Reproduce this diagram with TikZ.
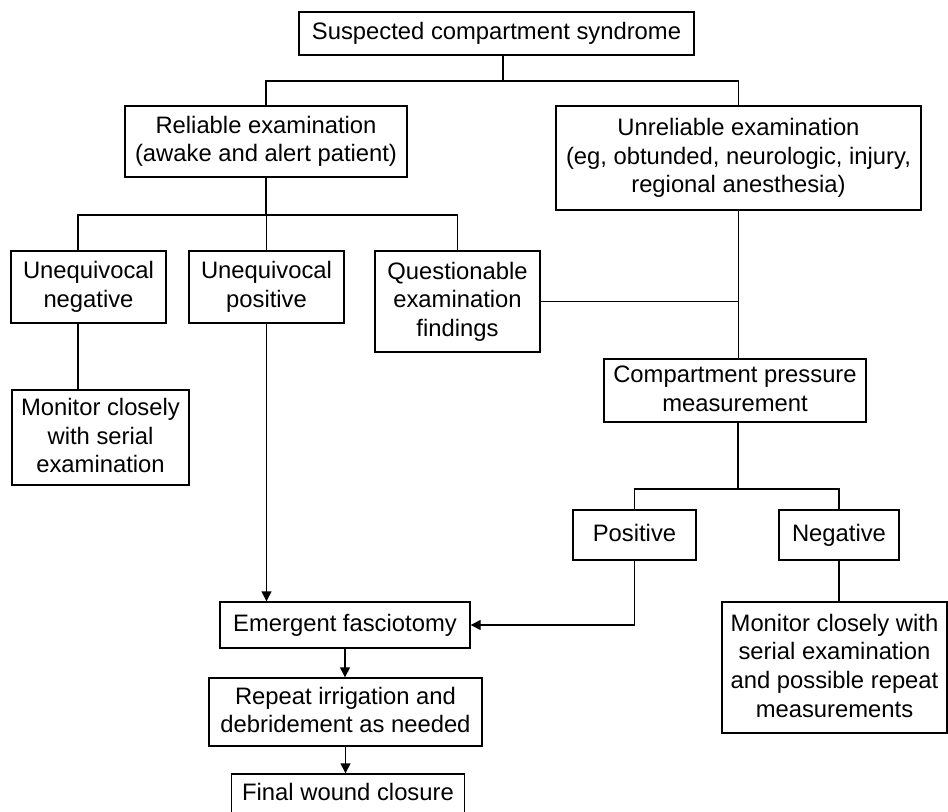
\documentclass[tikz,border=0pt]{standalone}
\usepackage{fontspec}
\setmainfont{Liberation Sans}
\usetikzlibrary{arrows.meta}
\newcommand{\boxstrut}{\rule[-2pt]{0pt}{10.5pt}}

\begin{document}
\begin{tikzpicture}[x=0.5pt, y=-0.5pt,
    box/.style={draw, line width=0.7pt, align=center, inner sep=0pt,
        font=\fontsize{11.9}{14.3}\selectfont,
        execute at begin node=\boxstrut, execute at end node=\boxstrut},
    link/.style={line width=0.7pt},
    arr/.style={line width=0.7pt, -{Triangle[length=5pt, width=5pt]}}]
    \useasboundingbox (0,0) rectangle (948,812);
    \node[box, minimum width=197.5pt, minimum height=21.5pt]
        (susp) at (496.5, 33.5) {Suspected compartment syndrome};
    \node[box, minimum width=141pt, minimum height=35.5pt]
        (rel) at (266, 141.5) {Reliable examination\\(awake and alert patient)};
    \node[box, minimum width=182.5pt, minimum height=52pt]
        (unrel) at (738.5, 158) {Unreliable examination\\(eg, obtunded, neurologic, injury,\\regional anesthesia)};
    \node[box, minimum width=77.5pt, minimum height=36pt]
        (neg) at (88.5, 287) {Unequivocal\\negative};
    \node[box, minimum width=77.5pt, minimum height=36pt]
        (pos) at (266.5, 287) {Unequivocal\\positive};
    \node[box, minimum width=82.5pt, minimum height=50.5pt]
        (quest) at (457.5, 301.5) {Questionable\\examination\\findings};
    \node[box, minimum width=88.5pt, minimum height=47.5pt]
        (mon1) at (100.5, 437.5) {Monitor closely\\with serial\\examination};
    \node[box, minimum width=131pt, minimum height=31.5pt]
        (cpm) at (735, 390.5) {Compartment pressure\\measurement};
    \node[box, minimum width=61.5pt, minimum height=25pt]
        (posm) at (634.5, 535) {Positive};
    \node[box, minimum width=60pt, minimum height=25pt]
        (negm) at (839, 535) {Negative};
    \node[box, minimum width=112.5pt, minimum height=65.5pt]
        (mon2) at (834.5, 667.5) {Monitor closely with\\serial examination\\and possible repeat\\measurements};
    \node[box, minimum width=125pt, minimum height=23pt]
        (fas) at (345, 625) {Emergent fasciotomy};
    \node[box, minimum width=136.5pt, minimum height=34pt]
        (rep) at (345.5, 712) {Repeat irrigation and\\debridement as needed};
    \node[box, minimum width=116.5pt, minimum height=20pt]
        (fin) at (348, 794) {Final wound closure};

    \coordinate (topj) at (503, 81);
    \coordinate (relj) at (78, 215);
    \coordinate (cpmj) at (738, 489);

    \draw[link] (susp.south -| topj) -- (topj);
    \draw[link] (rel.north) -- (rel.north |- topj) -- (unrel.north |- topj) -- (unrel.north);
    \draw[link] (rel.south) -- (rel.south |- relj);
    \draw[link] (relj |- neg.north) -- (relj) -- (quest.north |- relj) -- (quest.north);
    \draw[link] (pos.north) -- (pos.north |- relj);
    \draw[link] (relj |- neg.south) -- (relj |- mon1.north);
    \draw[link] (unrel.south) -- (unrel.south |- cpm.north);
    \draw[link] (quest.east) -- (quest.east -| unrel.south);
    \draw[link] (cpmj |- cpm.south) -- (cpmj);
    \draw[link] (posm.north) -- (posm.north |- cpmj) -- (negm.north |- cpmj) -- (negm.north);
    \draw[link] (negm.south) -- (negm.south |- mon2.north);
    \draw[arr] (pos.south) -- (pos.south |- fas.north);
    \draw[arr] (posm.south) |- (fas.east);
    \draw[arr] (fas.south) -- (fas.south |- rep.north);
    \draw[arr] (rep.south) -- (rep.south |- fin.north);
\end{tikzpicture}
\end{document}
